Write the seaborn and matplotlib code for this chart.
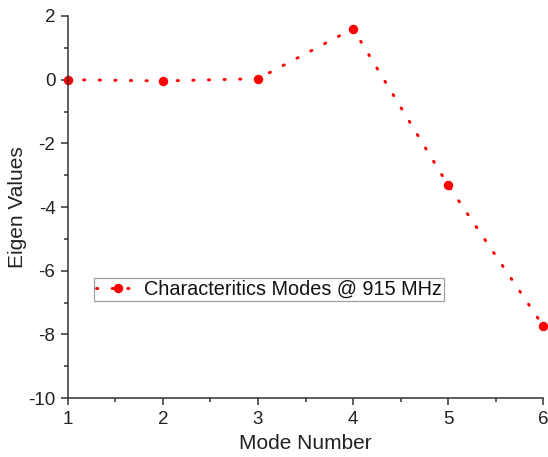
import matplotlib
matplotlib.use("Agg")
import matplotlib.pyplot as plt
import seaborn as sns
import pandas as pd
from matplotlib.ticker import MultipleLocator

modes = [1, 2, 3, 4, 5, 6]
eigen = [0.0, -0.04, 0.03, 1.6, -3.31, -7.73]
series_label = "Characteritics Modes @ 915 MHz"

sns.set_style("ticks")
plt.rcParams['font.family'] = ['Liberation Sans', 'DejaVu Sans']
plt.rcParams['axes.unicode_minus'] = False

df = pd.DataFrame({"Mode Number": modes, "Eigen Values": eigen})

DASH = [0.45, 4.9]

fig = plt.figure(figsize=(5.48, 4.57), dpi=100)
ax = fig.add_axes([0.124, 0.129, 0.867, 0.836])
sns.lineplot(data=df, x="Mode Number", y="Eigen Values", ax=ax, color="#ff0000",
             linewidth=2.1, marker="o", markersize=6.8, markeredgewidth=0,
             label=series_label, clip_on=False)
for ln in ax.lines:
    ln.set_dashes(DASH)
    ln.set_dash_capstyle("round")

ax.set_xlim(1, 6)
ax.set_ylim(-10, 2)
ax.xaxis.set_major_locator(MultipleLocator(1))
ax.xaxis.set_minor_locator(MultipleLocator(0.5))
ax.yaxis.set_major_locator(MultipleLocator(2))
ax.yaxis.set_minor_locator(MultipleLocator(1))
for s in ["top", "right"]:
    ax.spines[s].set_visible(False)
for s in ["left", "bottom"]:
    ax.spines[s].set_color("#333333")
    ax.spines[s].set_linewidth(1.1)
ax.tick_params(which="major", direction="out", length=5, width=1.1, color="#333333",
               labelsize=13.5, labelcolor="#222222", pad=4)
ax.tick_params(which="minor", direction="out", length=3, width=1.1, color="#333333")
ax.set_xlabel("Mode Number", fontsize=15, color="#222222", labelpad=5)
ax.set_ylabel("Eigen Values", fontsize=15, color="#222222", labelpad=1)

leg = ax.legend(loc="upper left", bbox_to_anchor=(0.055, 0.315), frameon=True,
                fancybox=False, fontsize=14.3, handlelength=2.2, handletextpad=0.2,
                borderpad=0.1, borderaxespad=0)
leg.get_frame().set_edgecolor("#888888")
leg.get_frame().set_linewidth(0.9)
for t in leg.get_texts():
    t.set_color("#111111")
for h in leg.legend_handles:
    h.set_dashes(DASH)
    h.set_dash_capstyle("round")

fig.savefig("out.png", dpi=100)
